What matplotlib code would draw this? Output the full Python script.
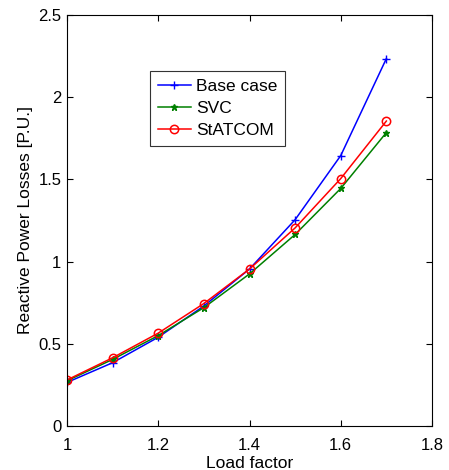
import matplotlib
matplotlib.use("Agg")
import matplotlib.pyplot as plt

load_factor = [1.0, 1.1, 1.2, 1.3, 1.4, 1.5, 1.6, 1.7]
base_case = [0.265, 0.385, 0.54, 0.73, 0.955, 1.255, 1.645, 2.235]
svc = [0.275, 0.405, 0.55, 0.72, 0.925, 1.165, 1.445, 1.785]
statcom = [0.28, 0.415, 0.565, 0.745, 0.955, 1.205, 1.505, 1.855]

plt.rcParams['font.family'] = ['Liberation Sans', 'DejaVu Sans']
fig = plt.figure(figsize=(4.49, 4.70), dpi=100)
ax = fig.add_axes([67/449, 44/470, 365/449, 411/470])

ax.plot(load_factor, base_case, color='#0000ff', marker='+', markersize=6, mew=1.0, lw=1.1, label='Base case')
ax.plot(load_factor, svc, color='#008000', marker='*', markersize=5, lw=1.1, label='SVC')
ax.plot(load_factor, statcom, color='#ff0000', marker='o', markersize=6, mfc='none', mew=1.1, lw=1.1, label='StATCOM')

ax.set_xlim(1.0, 1.8)
ax.set_ylim(0, 2.5)
ax.set_xticks([1.0, 1.2, 1.4, 1.6, 1.8])
ax.set_xticklabels(['1', '1.2', '1.4', '1.6', '1.8'])
ax.set_yticks([0, 0.5, 1, 1.5, 2, 2.5])
ax.set_yticklabels(['0', '0.5', '1', '1.5', '2', '2.5'])
ax.tick_params(direction='in', labelsize=12, length=4, top=True, right=True)
ax.tick_params(axis='x', pad=9)
ax.tick_params(axis='y', pad=4)
ax.set_xlabel('Load factor', fontsize=12.5, labelpad=2)
ax.set_ylabel('Reactive Power Losses [P.U.]', fontsize=12.5, labelpad=4)

leg = ax.legend(loc='upper left', bbox_to_anchor=((150-67)/365, (426-71)/411), fontsize=12.5,
                fancybox=False, edgecolor='#333333', framealpha=1, handlelength=1.9,
                borderpad=0.45, labelspacing=0.4, handletextpad=0.3, borderaxespad=0)
leg.get_frame().set_linewidth(0.8)

fig.savefig('out.png', dpi=100)
